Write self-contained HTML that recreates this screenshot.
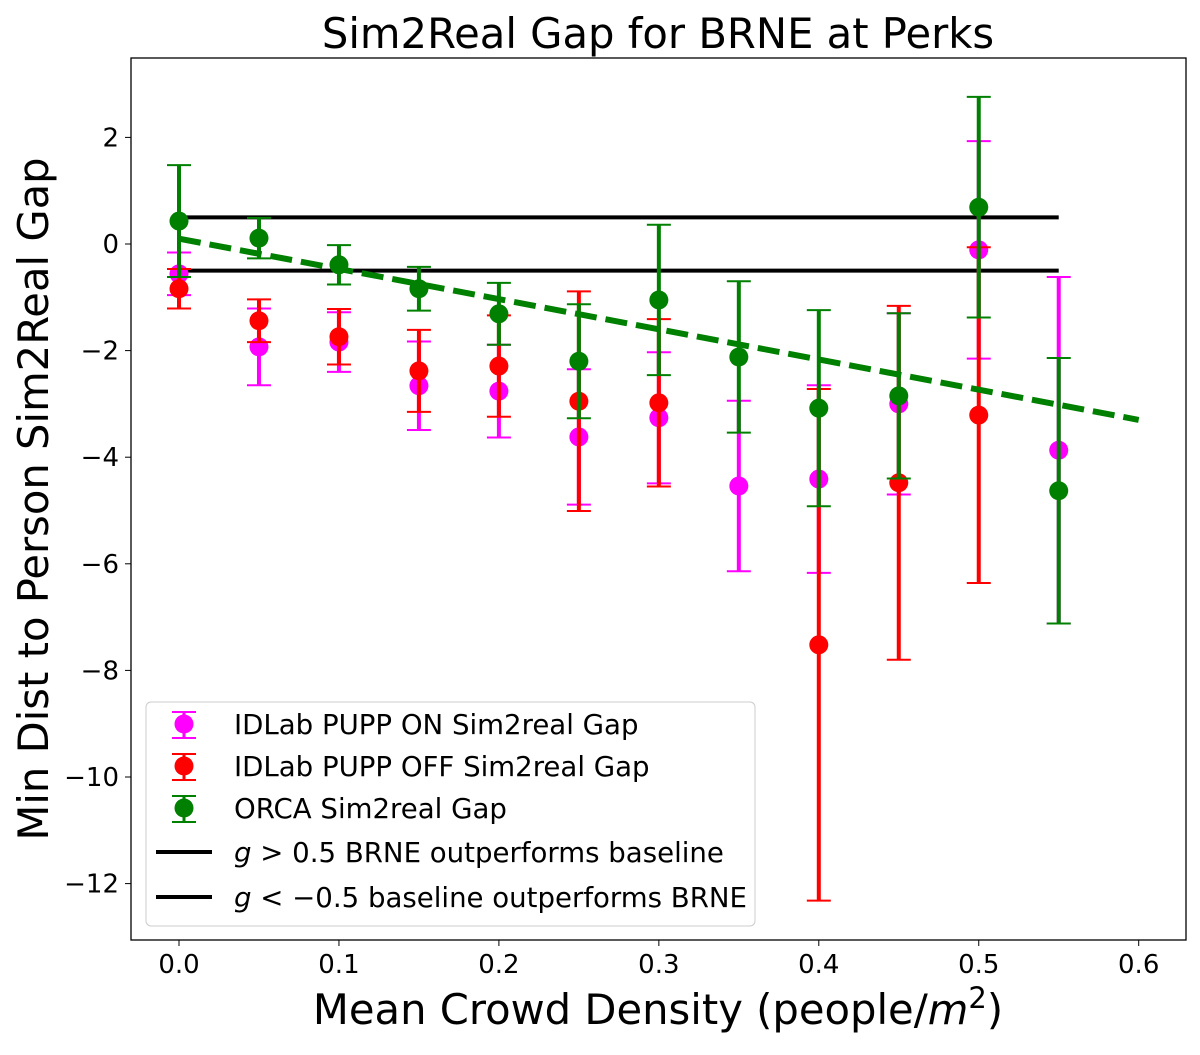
<!DOCTYPE html>
<html><head><meta charset="utf-8"><style>
body{margin:0;background:#fff}
svg text{font-family:"DejaVu Sans","Liberation Sans",sans-serif}
</style></head><body>
<svg id="chart" width="1200" height="1050">
<rect x="131" y="58" width="1055" height="882" fill="none" stroke="#000" stroke-width="1.3"/>
<text x="658" y="48" font-size="41.7" text-anchor="middle">Sim2Real Gap for BRNE at Perks</text>
<text x="658" y="1024" font-size="41.7" text-anchor="middle">Mean Crowd Density (people/<tspan font-style="italic">m</tspan><tspan dy="-16" font-size="29">2</tspan><tspan dy="16">)</tspan></text>
<text transform="translate(48,499) rotate(-90)" font-size="41.7" text-anchor="middle">Min Dist to Person Sim2Real Gap</text>
<g id="axes"></g><g id="marks"></g>
<g>
<rect x="146" y="702" width="609" height="224" rx="5" fill="#fff" fill-opacity="0.8" stroke="#ccc"/>
</g>
<g id="legend-items"></g>
</svg>
<script>
const xs=[0,0.05,0.1,0.15,0.2,0.25,0.3,0.35,0.4,0.45,0.5,0.55];
const onVals=[-0.56,-1.93,-1.84,-2.66,-2.76,-3.62,-3.26,-4.54,-4.41,-3.0,-0.11,-3.87];
const onErr=[0.4,0.72,0.56,0.83,0.87,1.27,1.23,1.6,1.76,1.7,2.04,3.25];
const offX=[0,0.05,0.1,0.15,0.2,0.25,0.3,0.4,0.45,0.5];
const offVals=[-0.84,-1.44,-1.74,-2.38,-2.29,-2.95,-2.98,-7.52,-4.48,-3.21];
const offErr=[0.37,0.4,0.52,0.77,0.95,2.06,1.57,4.8,3.32,3.15];
const orcaVals=[0.43,0.11,-0.39,-0.84,-1.31,-2.2,-1.05,-2.12,-3.08,-2.85,0.69,-4.63];
const orcaErr=[1.05,0.38,0.37,0.41,0.58,1.07,1.41,1.42,1.84,1.55,2.07,2.49];
const trendX=[0,0.6];
const trendY=[0.1,-3.3];
const xTicks=[0,0.1,0.2,0.3,0.4,0.5,0.6];
const yTicks=[2,0,-2,-4,-6,-8,-10,-12];
const hLines=[0.5,-0.5];
const X=v=>179+v*1599.5;
const Y=v=>244-v*53.3;
const NS='http://www.w3.org/2000/svg';
function mk(p,t,a){const e=document.createElementNS(NS,t);for(const k in a)e.setAttribute(k,a[k]);p.appendChild(e);return e;}
const axes=document.getElementById('axes'),marks=document.getElementById('marks');
xTicks.forEach(v=>{
 const l=mk(axes,'line',{x1:X(v),x2:X(v),y1:940,y2:946,stroke:'#000'});
 
 
 const t=mk(axes,'text',{x:X(v),y:973,'font-size':26,'text-anchor':'middle'});t.textContent=v.toFixed(1);
 
 
});
yTicks.forEach(v=>{
 const l=mk(axes,'line',{x1:125,x2:131,y1:Y(v),y2:Y(v),stroke:'#000'});
 
 
 const t=mk(axes,'text',{x:119,y:Y(v)+9,'font-size':26,'text-anchor':'end'});t.textContent=(v<0?'\u2212':'')+Math.abs(v);
 
 
});
hLines.forEach(v=>{
 const l=mk(marks,'line',{x1:X(0),x2:X(0.55),y1:Y(v),y2:Y(v),stroke:'#000','stroke-width':4});
 
 
});
function series(xv,vals,errs,col,name){
 xv.forEach((x,i)=>{
  const cx=X(x),t=Y(vals[i]+errs[i]),b=Y(vals[i]-errs[i]);
  const g=mk(marks,'g',{});
  
  
  mk(g,'line',{x1:cx,x2:cx,y1:t,y2:b,stroke:col,'stroke-width':4});
  mk(g,'line',{x1:cx-12,x2:cx+12,y1:t,y2:t,stroke:col,'stroke-width':2});
  mk(g,'line',{x1:cx-12,x2:cx+12,y1:b,y2:b,stroke:col,'stroke-width':2});
  mk(g,'circle',{cx:cx,cy:Y(vals[i]),r:9.5,fill:col});
 });
}
series(xs,onVals,onErr,'#ff00ff','pupp-on');
series(offX,offVals,offErr,'#ff0000','pupp-off');
series(xs,orcaVals,orcaErr,'#008000','orca');
const tr=mk(marks,'line',{x1:X(trendX[0]),y1:Y(trendY[0]),x2:X(trendX[1]),y2:Y(trendY[1]),stroke:'#008000','stroke-width':6,'stroke-dasharray':'22,9'});


const li=document.getElementById('legend-items');
const leg=[['#ff00ff','IDLab PUPP ON Sim2real Gap',724,'pt'],['#ff0000','IDLab PUPP OFF Sim2real Gap',766,'pt'],['#008000','ORCA Sim2real Gap',808,'pt'],['#000','g > 0.5 BRNE outperforms baseline',852,'ln'],['#000','g < \u22120.5 baseline outperforms BRNE',897,'ln']];
leg.forEach(([c,txt,y,k])=>{
 const g=mk(li,'g',{});
 
 
 if(k==='pt'){mk(g,'line',{x1:184,x2:184,y1:y-12,y2:y+14,stroke:c,'stroke-width':3});
  mk(g,'line',{x1:172,x2:196,y1:y-12,y2:y-12,stroke:c,'stroke-width':2});
  mk(g,'line',{x1:172,x2:196,y1:y+14,y2:y+14,stroke:c,'stroke-width':2});
  mk(g,'circle',{cx:184,cy:y,r:9.5,fill:c});}
 else mk(g,'line',{x1:156,x2:212,y1:y,y2:y,stroke:c,'stroke-width':4});
 const t=mk(g,'text',{x:234,y:y+10,'font-size':27.6});
 if(k==='pt')t.textContent=txt;
 else{const parts=txt.split(' ');const it=mk(t,'tspan',{'font-style':'italic'});it.textContent=parts[0];const r=mk(t,'tspan',{});r.textContent=' '+parts.slice(1).join(' ');}
});
</script>
</body></html>
